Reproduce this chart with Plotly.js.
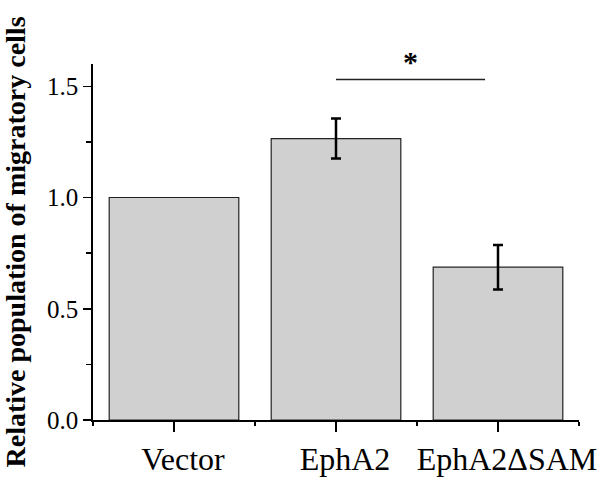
<!DOCTYPE html>
<html>
<head>
<meta charset="utf-8">
<script src="https://cdn.plot.ly/plotly-3.0.1.min.js"></script>
<style>html,body{margin:0;padding:0;background:#fff;}#chart{width:604px;height:479px;}</style>
</head>
<body>
<div id="chart"></div>
<script>
const categories = ["Vector", "EphA2", "EphA2\u0394SAM"];
const values = [1.0, 1.265, 0.687];
const errors = [NaN, 0.09, 0.1];
const yTickStep = 0.5;
const yMinorStep = 0.25;
const sigPair = [1, 1.92];
const sigLevel = 1.53;
const sigLabel = "*";

const xIdx = categories.map((c, i) => i);
const SERIF = "'Liberation Serif', 'Times New Roman', Times, serif";

const trace = {
  type: "bar",
  x: xIdx,
  y: values,
  width: 0.8,
  marker: {color: "#d0d0d0", line: {color: "#222", width: 1.2}},
  error_y: {type: "data", array: errors, visible: true, color: "#000", thickness: 2.5, width: 5},
  hoverinfo: "skip"
};

const layout = {
  width: 604, height: 479,
  margin: {l: 93, r: 25, t: 64, b: 59},
  paper_bgcolor: "#fff", plot_bgcolor: "#fff",
  showlegend: false,
  font: {family: SERIF, color: "#000"},
  xaxis: {
    range: [-0.5, 2.5],
    tickmode: "array", tickvals: xIdx, ticktext: categories,
    ticks: "outside", ticklen: 10, tickwidth: 1.5, tickcolor: "#000",
    ticklabelshift: 9,
    tickfont: {size: 32, family: SERIF, color: "#000"},
    showline: true, linecolor: "#000", linewidth: 1.8,
    showgrid: false, zeroline: false,
    minor: {tickmode: "linear", tick0: -0.5, dtick: 1, ticks: "outside", ticklen: 4, tickwidth: 1.5, tickcolor: "#000", showgrid: false}
  },
  yaxis: {
    range: [0, 1.6],
    tickmode: "linear", tick0: 0, dtick: yTickStep, tickformat: ".1f",
    ticks: "outside", ticklen: 8, tickwidth: 1.5, tickcolor: "#000",
    tickfont: {size: 25, family: SERIF, color: "#000"},
    showline: true, linecolor: "#000", linewidth: 1.8,
    showgrid: false, zeroline: false,
    minor: {dtick: yMinorStep, ticks: "outside", ticklen: 5, tickwidth: 1.5, tickcolor: "#000", showgrid: false},
    title: {text: "<b>Relative population of migratory cells</b>", font: {size: 28, family: SERIF, color: "#000"}, standoff: 14}
  },
  shapes: [{
    type: "line", xref: "x", yref: "y",
    x0: sigPair[0], x1: sigPair[1], y0: sigLevel, y1: sigLevel,
    line: {color: "#222", width: 1.5}
  }],
  annotations: [{
    xref: "x", yref: "y", x: (sigPair[0] + sigPair[1]) / 2, y: sigLevel,
    yanchor: "bottom", showarrow: false,
    text: "<b>" + sigLabel + "</b>",
    font: {size: 30, family: SERIF, color: "#000"}
  }]
};

Plotly.newPlot("chart", [trace], layout, {displayModeBar: false, staticPlot: true});
</script>
</body>
</html>
